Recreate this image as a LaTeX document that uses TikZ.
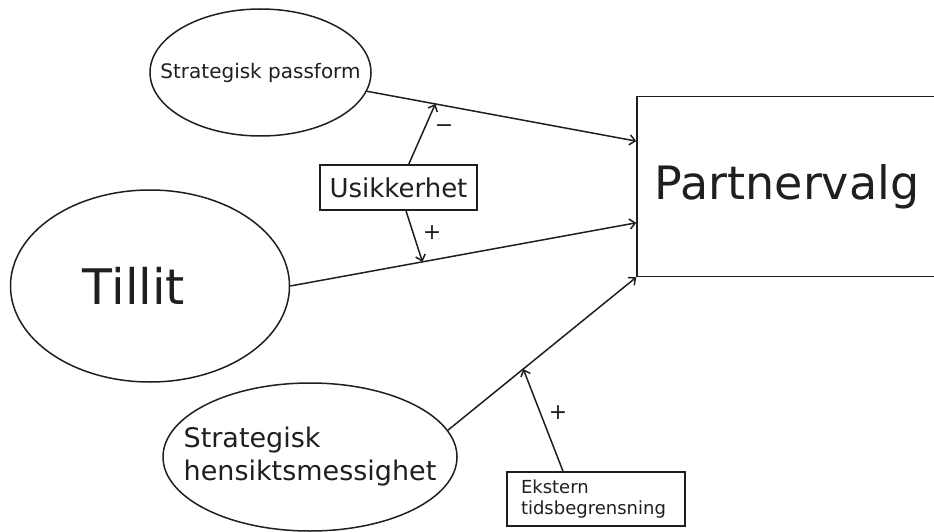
\documentclass[tikz,border=0pt]{standalone}
\usepackage{fontspec}
\setmainfont{DejaVu Sans}
\usetikzlibrary{shapes.geometric,calc,arrows.meta}

\begin{document}
\begin{tikzpicture}[x=1pt, y=-1pt, line width=1.5pt, color=black!88,
  >={Straight Barb[length=5.5pt,width=10pt]},
  oval/.style={draw, ellipse, inner sep=0pt},
  box/.style={draw, rectangle, inner sep=0pt},
  sign/.style={font=\fontsize{22}{24}\selectfont}]
  \useasboundingbox (0,0) rectangle (934,532);
  \clip (0,0) rectangle (934,532);
  \node[oval, minimum width=221pt, minimum height=127pt, font=\fontsize{20}{23}\selectfont] (sp) at (260.5,72.5) {\makebox[0pt]{Strategisk passform}};
  \node[oval, minimum width=279pt, minimum height=192pt, font=\fontsize{49}{55}\selectfont] (til) at (150,286) {\makebox[0pt]{Tillit\hspace*{32pt}}};
  \node[oval, minimum width=294pt, minimum height=148pt, font=\fontsize{27}{33}\selectfont] (hen) at (310,457) {\makebox[0pt]{\begin{tabular}{@{}l@{}}Strategisk\\hensiktsmessighet\end{tabular}}};
  \node[box, minimum width=300pt, minimum height=180pt, font=\fontsize{46}{50}\selectfont] (pv) at (787,186.5) {Partnervalg};
  \node[box, minimum width=157pt, minimum height=45pt, font=\fontsize{26}{30}\selectfont] (usi) at (398.5,187.5) {Usikkerhet};
  \node[box, minimum width=178pt, minimum height=54pt, text width=150pt, align=left, font=\fontsize{18}{20.5}\selectfont] (eks) at (596,499) {Ekstern\\tidsbegrensning};
  % main paths into the box
  \draw[->] (sp.-10) -- coordinate[pos=0.254] (m1) ($(pv.north west)!0.25!(pv.south west)$);
  \draw[->] (til.east) -- coordinate[pos=0.382] (m2) ($(pv.north west)!0.7!(pv.south west)$);
  \draw[->] (hen.11) -- coordinate[pos=0.4] (m3) (pv.south west);
  % moderators
  \draw[->] (usi) -- (m1);
  \draw[->] (usi) -- (m2);
  \draw[->] ([xshift=-33pt]eks.north) -- (m3);
  \node[sign] (minus) at (444,129) {−};
  \node[sign] (plus1) at (432,233) {+};
  \node[sign] (plus2) at (558,413) {+};
\end{tikzpicture}
\end{document}
